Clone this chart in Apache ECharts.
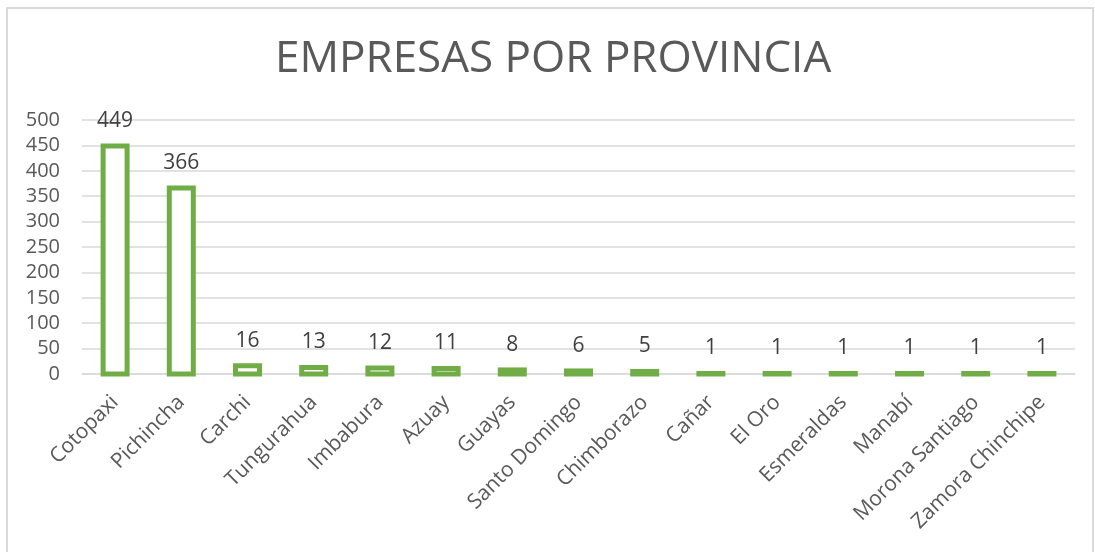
<!DOCTYPE html>
<html>
<head>
<meta charset="utf-8">
<script src="https://cdn.jsdelivr.net/npm/echarts@6/dist/echarts.min.js"></script>
<style>
  html, body { margin: 0; padding: 0; background: #fff; }
  #chart { width: 1095px; height: 552px; }
</style>
</head>
<body>
<div id="chart"></div>
<script>
  var provincias = ["Cotopaxi", "Pichincha", "Carchi", "Tungurahua", "Imbabura", "Azuay", "Guayas",
    "Santo Domingo", "Chimborazo", "Cañar", "El Oro", "Esmeraldas", "Manabí", "Morona Santiago", "Zamora Chinchipe"];
  var empresas = [449, 366, 16, 13, 12, 11, 8, 6, 5, 1, 1, 1, 1, 1, 1];

  var verde = "#70ad47";
  var gris = "#595959";
  var grosor = 5; // borde de la barra, centrado como en Excel

  var myChart = echarts.init(document.getElementById("chart"));

  function renderBarra(params, api) {
    var base = api.coord([api.value(0), 0]);
    var tope = api.coord([api.value(0), api.value(1)]);
    var ancho = 24;
    return {
      type: "group",
      children: [{
        type: "rect",
        shape: { x: base[0] - ancho / 2, y: tope[1], width: ancho, height: base[1] - tope[1] },
        style: { fill: "#fff", stroke: verde, lineWidth: grosor }
      }, {
        type: "text",
        x: tope[0],
        y: tope[1] - grosor / 2 - 12,
        style: {
          text: String(api.value(1)),
          textAlign: "center",
          textVerticalAlign: "bottom",
          fontFamily: "Open Sans",
          fontSize: 21,
          fill: "#404040"
        }
      }]
    };
  }

  var option = {
    backgroundColor: "#fff",
    animation: false,
    title: {
      text: "EMPRESAS POR PROVINCIA",
      left: 270,
      top: 32,
      textStyle: {
        fontFamily: "Open Sans",
        fontSize: 44,
        fontWeight: "normal",
        color: gris
      }
    },
    graphic: [{
      // marco del gráfico
      type: "polyline",
      shape: { points: [[7, 560], [7, 8], [1093, 8], [1093, 560]] },
      style: { stroke: "#d9d9d9", lineWidth: 2, fill: null },
      silent: true
    }],
    grid: {
      left: 82,
      right: 20,
      top: 120,
      bottom: 178
    },
    xAxis: {
      type: "category",
      data: provincias,
      axisTick: { show: false },
      axisLine: { show: true, lineStyle: { color: "#d9d9d9", width: 1.5 } },
      axisLabel: {
        rotate: 45,
        interval: 0,
        margin: 25,
        fontFamily: "Open Sans",
        fontSize: 21,
        color: gris
      }
    },
    yAxis: {
      type: "value",
      min: 0,
      max: 500,
      interval: 50,
      axisLine: { show: false },
      axisTick: { show: false },
      splitLine: { lineStyle: { color: "#d9d9d9", width: 1.5 } },
      axisLabel: {
        margin: 22,
        fontFamily: "Open Sans",
        fontSize: 20,
        color: gris
      }
    },
    series: [{
      type: "custom",
      renderItem: renderBarra,
      encode: { x: 0, y: 1 },
      data: empresas.map(function (v, i) { return [i, v]; })
    }]
  };
  myChart.setOption(option);
</script>
</body>
</html>
